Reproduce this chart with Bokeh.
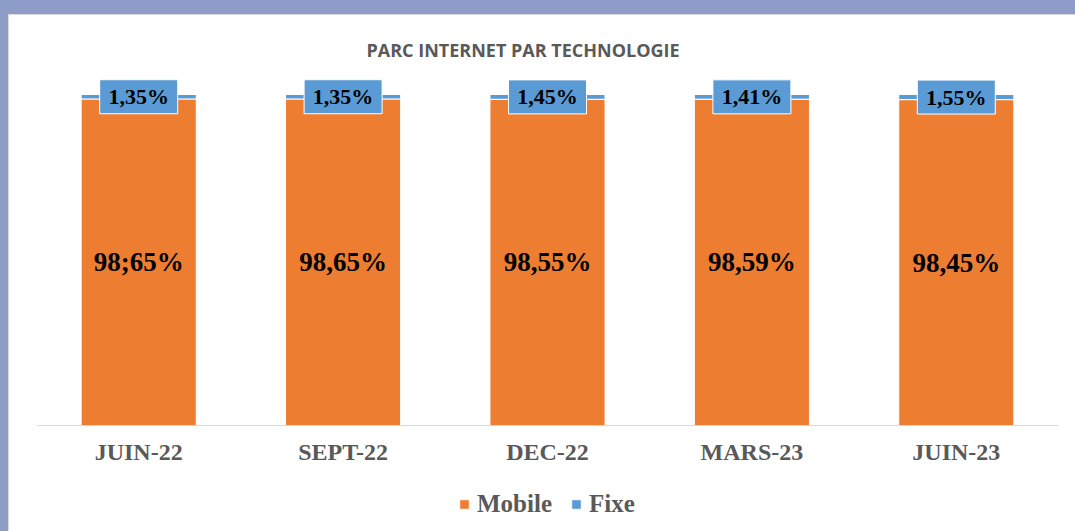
from bokeh.plotting import figure
from bokeh.models import (ColumnDataSource, FactorRange, Range1d, Legend, LegendItem,
                          CategoricalAxis, GlobalInlineStyleSheet)
from bokeh.core.properties import value
from bokeh.embed import file_html
from bokeh.resources import INLINE

categories = ["JUIN-22", "SEPT-22", "DEC-22", "MARS-23", "JUIN-23"]
mobile = [98.65, 98.65, 98.55, 98.59, 98.45]
fixe = [1.35, 1.35, 1.45, 1.41, 1.55]
mobile_labels = ["98;65%", "98,65%", "98,55%", "98,59%", "98,45%"]
fixe_labels = ["1,35%", "1,35%", "1,45%", "1,41%", "1,55%"]
series_names = ["Mobile", "Fixe"]
title_text = "PARC INTERNET PAR TECHNOLOGIE"

ORANGE = "#ED7D31"
BLUE = "#5B9BD5"
GREY = "#595959"

src = ColumnDataSource(dict(
    x=categories,
    mobile=mobile,
    fixe=fixe,
    mobile_mid=[m / 2 for m in mobile],
    fixe_mid=[m + f / 2 for m, f in zip(mobile, fixe)],
    mobile_lbl=mobile_labels,
    fixe_lbl=fixe_labels,
))

PX = 3.31  # pixels per percent point
p = figure(
    x_range=FactorRange(*categories, range_padding=0),
    y_range=Range1d(-98 / PX, 100 + 28 / PX),
    width=1058, height=508,
    min_border_left=27, min_border_right=9,
    min_border_top=51, min_border_bottom=0,
    x_axis_location=None, y_axis_location=None,
    output_backend="svg", toolbar_location=None,
    title=title_text,
)
p.outline_line_color = None
p.xgrid.grid_line_color = None
p.ygrid.grid_line_color = None
p.background_fill_color = "white"
p.border_fill_color = "white"

p.title.align = "left"
p.title.offset = 330
p.title.text_font = "Open Sans"
p.title.text_font_style = "bold"
p.title.text_font_size = "18px"
p.title.text_color = GREY

rs = p.vbar_stack(["mobile", "fixe"], x="x", width=0.563, color=[ORANGE, BLUE],
                  line_color="white", line_width=1, source=src)

p.text(x="x", y="mobile_mid", text="mobile_lbl", source=src,
       text_align="center", text_baseline="middle",
       text_font=value("Liberation Serif"), text_font_style="bold",
       text_font_size="27px", text_color="black")

p.rect(x="x", y="fixe_mid", width=78, height=34, width_units="screen",
       height_units="screen", fill_color=BLUE, line_color="white",
       line_width=1, source=src)
p.text(x="x", y="fixe_mid", text="fixe_lbl", source=src,
       text_align="center", text_baseline="middle",
       text_font=value("Liberation Serif"), text_font_style="bold",
       text_font_size="22px", text_color="black")

ax = CategoricalAxis(fixed_location=0)
ax.axis_line_color = "#D9D9D9"
ax.axis_line_width = 1
ax.major_tick_line_color = None
ax.minor_tick_line_color = None
ax.major_label_standoff = 7
ax.major_label_text_font = "Liberation Serif"
ax.major_label_text_font_style = "bold"
ax.major_label_text_font_size = "24px"
ax.major_label_text_color = GREY
p.add_layout(ax, "below")

legend = Legend(items=[LegendItem(label=series_names[0], renderers=[rs[0]]),
                       LegendItem(label=series_names[1], renderers=[rs[1]])],
                orientation="horizontal", location=(422, 5))
legend.border_line_color = None
legend.background_fill_color = None
legend.background_fill_alpha = 0
legend.label_text_font = "Liberation Serif"
legend.label_text_font_style = "bold"
legend.label_text_font_size = "25px"
legend.label_text_color = GREY
legend.glyph_width = 12
legend.glyph_height = 12
legend.label_standoff = 7
legend.spacing = 18
legend.margin = 0
legend.padding = 0
p.add_layout(legend, "center")

page_css = """
html { min-height: 100%;
  background:
    linear-gradient(#8D9DC7, #8D9DC7) 0 0 / 100% 14px no-repeat,
    linear-gradient(#8D9DC7, #8D9DC7) 0 0 / 8px 100% no-repeat,
    linear-gradient(#DADADA, #DADADA) 0 14px / 100% 1px no-repeat,
    linear-gradient(#DADADA, #DADADA) 8px 0 / 1px 100% no-repeat,
    #FFFFFF; }
body { margin: 15px 8px 8px 9px; background: transparent; }
"""
p.stylesheets = [GlobalInlineStyleSheet(css=page_css)]

open("out.html", "w").write(file_html(p, INLINE))
